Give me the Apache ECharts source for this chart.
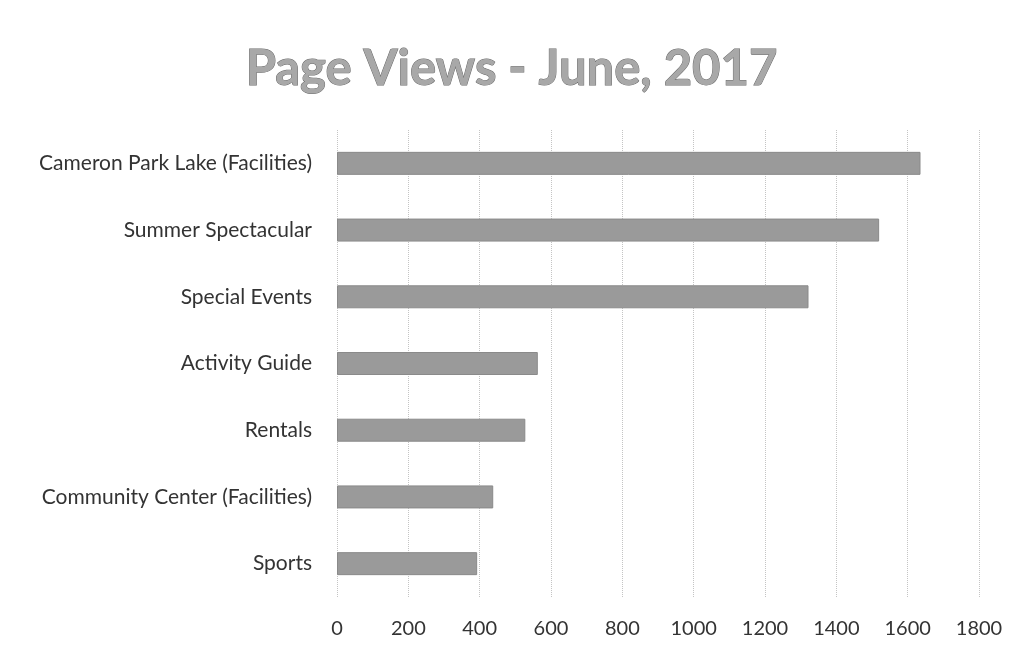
<!DOCTYPE html>
<html><head><meta charset="utf-8">
<script src="https://cdn.jsdelivr.net/npm/echarts@6/dist/echarts.min.js"></script>
<style>html,body{margin:0;padding:0;background:#fff}#c{width:1023px;height:656px}</style>
</head><body><div id="c"></div>
<script>
const categories = ["Cameron Park Lake (Facilities)","Summer Spectacular","Special Events","Activity Guide","Rentals","Community Center (Facilities)","Sports"];
const views = [1636, 1520, 1322, 563, 528, 438, 393];
const xTicks = [0,200,400,600,800,1000,1200,1400,1600,1800];

const chart = echarts.init(document.getElementById('c'));
chart.setOption({
  backgroundColor:'#fff',
  animation:false,
  title:{text:'Page Views - June, 2017',left:'center',top:40,
    textStyle:{fontFamily:'Lato',fontWeight:'bold',fontSize:49,color:'#a8a8a8',textBorderColor:'#6a6a6a',textBorderWidth:1}},
  grid:{left:337,right:44,top:130,bottom:59},
  xAxis:{type:'value',min:0,max:1800,interval:200,
    axisLine:{show:false},axisTick:{show:false},
    axisLabel:{fontFamily:'Lato',fontSize:20,color:'#333',margin:22,formatter:v=>String(v)},
    splitLine:{show:true,lineStyle:{type:'dotted',color:'#c4c4c4',width:1}}},
  yAxis:{type:'category',data:categories,inverse:true,
    axisLine:{show:false},axisTick:{show:false},
    axisLabel:{fontFamily:'Lato',fontSize:21,color:'#333',margin:25}},
  series:[{type:'bar',data:views,barWidth:23,
    itemStyle:{color:'#9a9a9a',borderColor:'#8a8a8a',borderWidth:1}}]
});
</script></body></html>
